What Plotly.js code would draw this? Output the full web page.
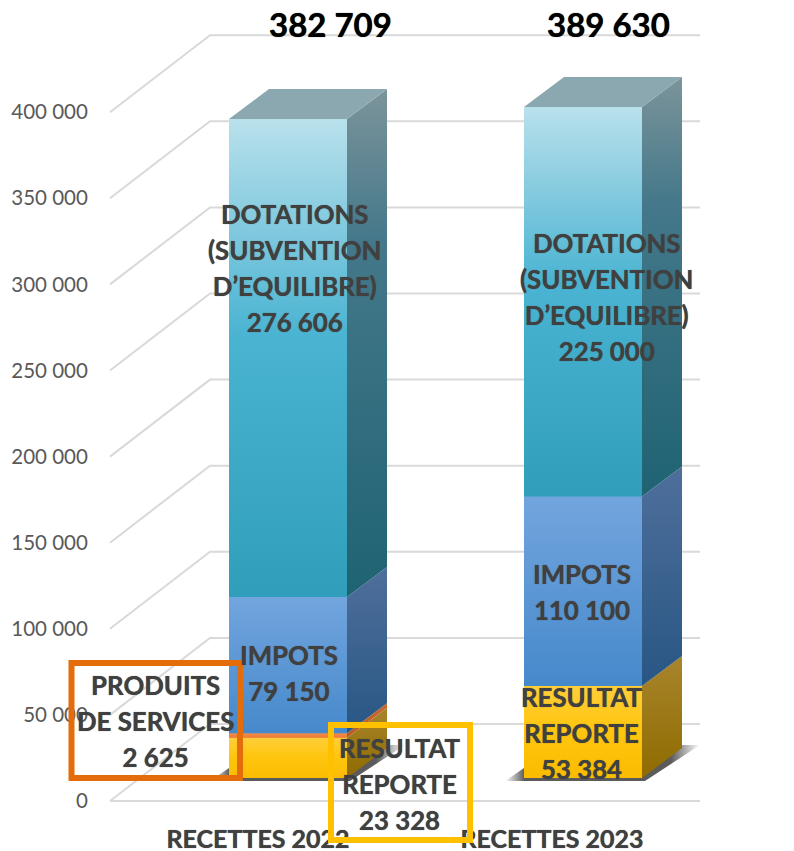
<!DOCTYPE html>
<html>
<head>
<meta charset="utf-8">
<script src="https://cdn.plot.ly/plotly-3.0.1.min.js"></script>
<style>html,body{margin:0;padding:0;background:#fff}#chart{width:794px;height:851px}</style>
</head>
<body>
<div id="chart"></div>
<script>
// ---- data ----
const categories = ['RECETTES 2022', 'RECETTES 2023'];
const resultat   = [23328, 53384];
const produits   = [2625, 0];
const impots     = [79150, 110100];
const dotations  = [276606, 225000];
const totals     = [382709, 389630];
const yTicks     = [0, 50000, 100000, 150000, 200000, 250000, 300000, 350000, 400000];
const yTickText  = ['0', '50 000', '100 000', '150 000', '200 000', '250 000', '300 000', '350 000', '400 000'];

// ---- geometry of the fake 3D frame (page pixels) ----
const W = 794, H = 851, Y0 = 801, PXPER = 86.1 / 50000;
const val = px => (Y0 - px) / PXPER;           // page y -> axis value
const dpx = px => px / PXPER;                  // pixel length -> value length
const barX = [229, 524], barW = 118;
const lift = dpx(23), depthX = 40, depthY = dpx(30);
const wallX = 100, wallY = dpx(77), axisX = 110, wallEnd = 700;
const labelX = [258, 552];

const series = [
  {name: 'RESULTAT REPORTE', v: resultat,
   front: [[0, '#ffce3a'], [0.45, '#ffc610'], [1, '#fbbc00']], side: [[0, '#a8852c'], [1, '#8f6b00']]},
  {name: 'PRODUITS DE SERVICES', v: produits,
   front: [[0, '#f08a4b'], [1, '#ee7b33']], side: [[0, '#c8682e'], [1, '#b85a20']]},
  {name: 'IMPOTS', v: impots,
   front: [[0, '#72a5de'], [1, '#4689cb']], side: [[0, '#4f6f9b'], [1, '#285684']]},
  {name: 'DOTATIONS', v: dotations,
   front: [[0, '#b9e1ec'], [0.25, '#7cc7dd'], [0.45, '#4ab4d2'], [1, '#309eba']],
   side: [[0, '#7c949a'], [0.3, '#44788a'], [1, '#1f6373']]}
];

const traces = [];
const poly = (xs, ys, extra) => Object.assign({type: 'scatter', mode: 'lines', x: xs, y: ys, fill: 'toself',
  line: {width: 0}, hoverinfo: 'skip', showlegend: false}, extra);

// gridlines on floor side and back wall
yTicks.forEach(t => traces.push({type: 'scatter', mode: 'lines',
  x: [axisX, axisX + wallX, wallEnd], y: [t, t + wallY, t + wallY],
  line: {color: '#d9d9d9', width: 2}, hoverinfo: 'skip', showlegend: false}));
traces.push({type: 'scatter', mode: 'lines', x: [axisX, wallEnd], y: [0, 0],
  line: {color: '#d9d9d9', width: 2}, hoverinfo: 'skip', showlegend: false});

// stacked front faces as real bars
const cum = [lift, lift];
const stacks = series.map(s => {
  const base = cum.slice();
  s.v.forEach((v, i) => cum[i] += v);
  return {s, base};
});
stacks.forEach(({s, base}) => traces.push({type: 'bar', name: s.name, x: barX.map(b => b + barW / 2), y: s.v,
  base: base, width: barW, marker: {color: s.front[s.front.length - 1][1], line: {width: 0}},
  hoverinfo: 'skip', showlegend: false}));

barX.forEach((L, i) => {
  const R = L + barW;
  // ground shadow
  traces.push(poly([L - 19, L, R + depthX, R + 58, R + 3, L - 19],
    [val(781), val(768), val(745), val(745), val(781), val(781)],
    {fillcolor: 'rgba(60,60,60,0.7)', fillgradient: {type: 'horizontal',
      colorscale: [[0, 'rgba(60,60,60,0)'], [0.1, 'rgba(50,50,50,0.8)'], [0.85, 'rgba(50,50,50,0.8)'], [1, 'rgba(60,60,60,0)']]}}));
  stacks.forEach(({s, base}, k) => {
    if (s.v[i] <= 0) return;
    const a = base[i];
    const b = (k === stacks.length - 1) ? totals[i] + lift : a + s.v[i];
    // side face
    traces.push(poly([R, R + depthX, R + depthX, R, R], [a, a + depthY, b + depthY, b, a],
      {fillgradient: {type: 'vertical', start: b + depthY, stop: a, colorscale: s.side}}));
    // front face shading
    traces.push(poly([L, R, R, L, L], [a, a, b, b, a],
      {fillgradient: {type: 'vertical', start: b, stop: a, colorscale: s.front}}));
  });
  // top face
  const t = totals[i] + lift;
  traces.push(poly([L, R, R + depthX, L + depthX, L], [t, t, t + depthY, t + depthY, t], {fillcolor: '#8ba8b1'}));
});

const TXT = '#404040';
const THICK = '0 0 0.8px #404040';
// outer font size sets the 36px line pitch; the inner span sets the glyph size
const ann = (text, x, ypx) => ({
  text: text.split('<br>').map(l => '<span style="font-size:25.8px"><b>' + l + '</b></span>').join('<br>'),
  x, y: val(ypx), xref: 'x', yref: 'y',
  showarrow: false, xanchor: 'center', yanchor: 'middle', align: 'center',
  font: {family: 'Lato, Carlito, sans-serif', size: 27.7, color: TXT, shadow: THICK}});
const head = (text, x) => ({text: '<b>' + text + '</b>', x, y: val(24), xref: 'x', yref: 'y',
  showarrow: false, xanchor: 'center', yanchor: 'middle',
  font: {family: 'Lato, Carlito, sans-serif', size: 33, color: '#000', shadow: '0 0 0.8px #000'}});

const annotations = [
  head('382 709', 330),
  head('389 630', 608),
  ann('DOTATIONS<br>(SUBVENTION<br>D’EQUILIBRE)<br>276 606', 294, 268),
  ann('DOTATIONS<br>(SUBVENTION<br>D’EQUILIBRE)<br>225 000', 606, 297),
  ann('IMPOTS<br>79 150', 289, 673),
  ann('IMPOTS<br>110 100', 582, 592),
  ann('RESULTAT<br>REPORTE<br>53 384', 582, 733),
  ann('PRODUITS<br>DE SERVICES<br>2 625', 155, 721),
  ann('RESULTAT<br>REPORTE<br>23 328', 400, 784)
];

const box = (x0, x1, y0, y1, c) => ({type: 'rect', xref: 'x', yref: 'y', x0, x1, y0: val(y0), y1: val(y1),
  line: {color: c, width: 6}, fillcolor: 'rgba(0,0,0,0)', layer: 'above'});

const layout = {
  width: W, height: H, margin: {l: 0, r: 0, t: 0, b: 0}, paper_bgcolor: '#fff', plot_bgcolor: 'rgba(0,0,0,0)',
  showlegend: false, barmode: 'overlay', hovermode: false,
  xaxis: {range: [0, W], showgrid: false, zeroline: false, showline: false, anchor: 'free', position: (H - Y0 - 21) / H,
    tickmode: 'array', tickvals: labelX, ticktext: categories.map(c => '<b>' + c + '</b>'),
    ticks: '', tickfont: {family: 'Lato, Carlito, sans-serif', size: 25, color: TXT, shadow: THICK}},
  yaxis: {range: [val(H), val(0)], showgrid: false, zeroline: false, showline: false, anchor: 'free', position: axisX / W,
    tickmode: 'array', tickvals: yTicks, ticktext: yTickText, ticks: 'outside', ticklen: 18, tickcolor: 'rgba(0,0,0,0)',
    tickfont: {family: 'Lato, Carlito, sans-serif', size: 20.5, color: '#595959'}},
  annotations,
  shapes: [box(71.5, 240, 663, 778, '#e46c0a'), box(331, 470, 725, 840, '#ffc000')]
};

Plotly.newPlot('chart', traces, layout, {displayModeBar: false, staticPlot: true});
</script>
</body>
</html>
